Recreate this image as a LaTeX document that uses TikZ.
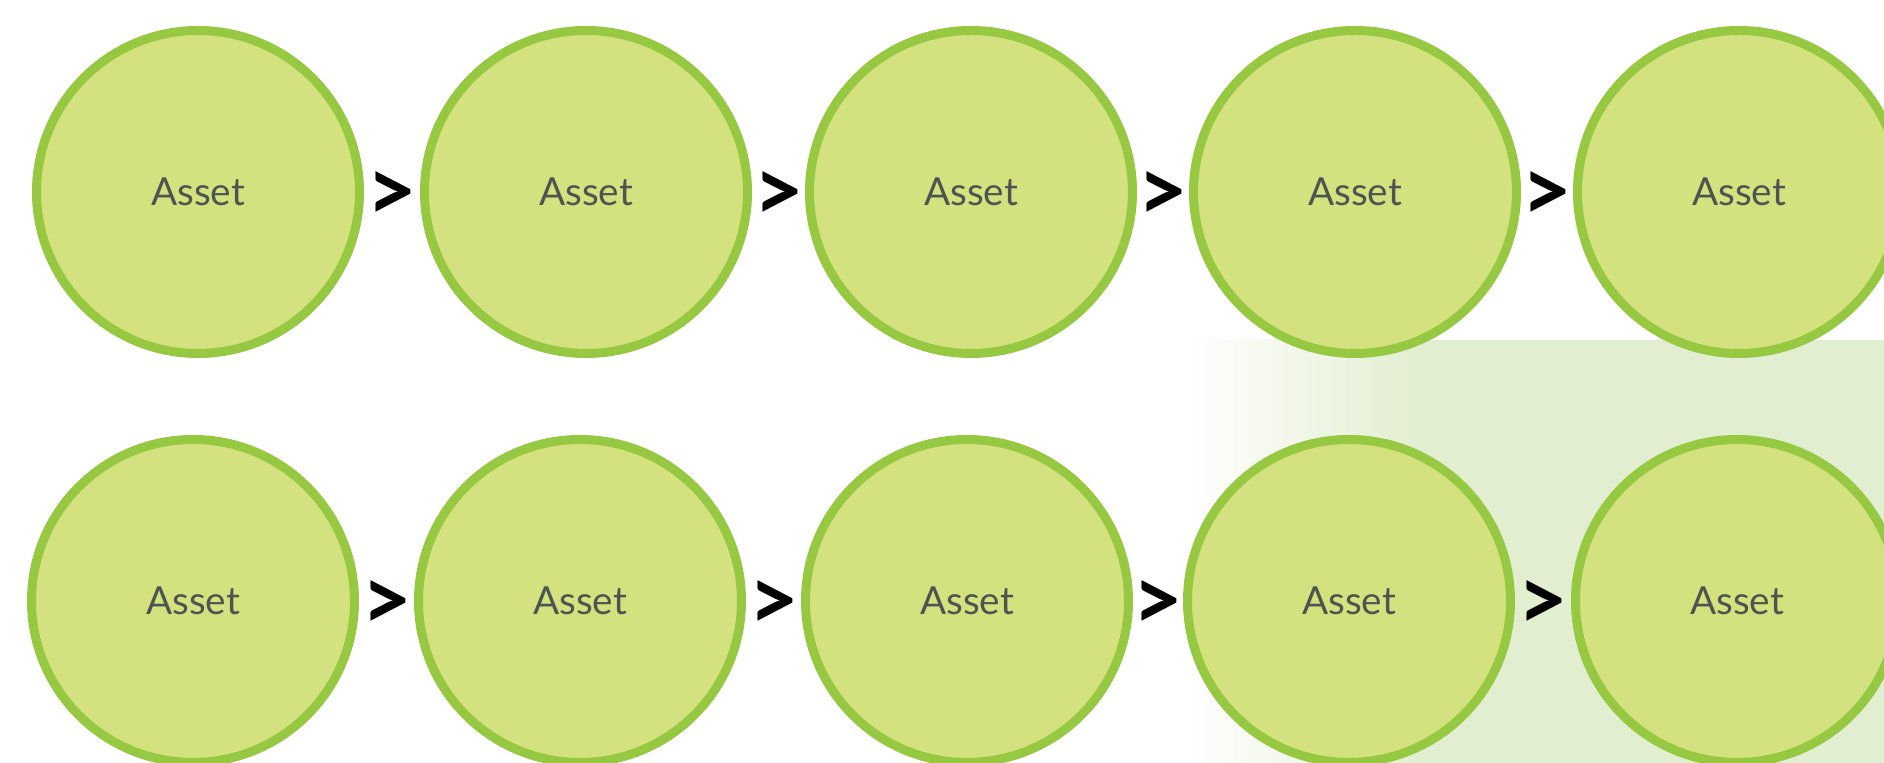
\documentclass[tikz,border=0pt]{standalone}
\usepackage{fontspec}
\setmainfont{Lato}
\definecolor{assetfill}{RGB}{211,225,126}
\definecolor{assetline}{RGB}{150,200,66}
\definecolor{glow}{RGB}{226,238,208}
\definecolor{textgray}{RGB}{80,84,80}
\begin{document}
\begin{tikzpicture}[
  asset/.style={draw=assetline, line width=0.09cm, fill=assetfill, circle,
    minimum size=3.23cm, inner sep=0pt, text=textgray, font=\fontsize{11}{13}\selectfont},
  gt/.style={font=\bfseries\fontsize{25}{25}\selectfont, yshift=-0.05cm, inner sep=0pt}]
\clip (0,0) rectangle (18.84,7.63);
\fill[white] (0,0) rectangle (18.84,7.63);
\shade[left color=white, right color=glow] (11.9,0) rectangle (14.2,4.23);
\fill[glow] (14.2,0) rectangle (18.84,4.23);
\begin{scope}
\node[asset] (a1) at (1.98,5.71) {Asset};
\node[asset] (a2) at (5.86,5.71) {Asset};
\node[asset] (a3) at (9.71,5.71) {Asset};
\node[asset] (a4) at (13.55,5.71) {Asset};
\node[asset] (a5) at (17.39,5.71) {Asset};
\path (a1) -- node[gt] {>} (a2);
\path (a2) -- node[gt] {>} (a3);
\path (a3) -- node[gt] {>} (a4);
\path (a4) -- node[gt] {>} (a5);
\end{scope}
\begin{scope}
\node[asset] (b1) at (1.93,1.62) {Asset};
\node[asset] (b2) at (5.80,1.62) {Asset};
\node[asset] (b3) at (9.67,1.62) {Asset};
\node[asset] (b4) at (13.49,1.62) {Asset};
\node[asset] (b5) at (17.37,1.62) {Asset};
\path (b1) -- node[gt] {>} (b2);
\path (b2) -- node[gt] {>} (b3);
\path (b3) -- node[gt] {>} (b4);
\path (b4) -- node[gt] {>} (b5);
\end{scope}
\end{tikzpicture}
\end{document}
